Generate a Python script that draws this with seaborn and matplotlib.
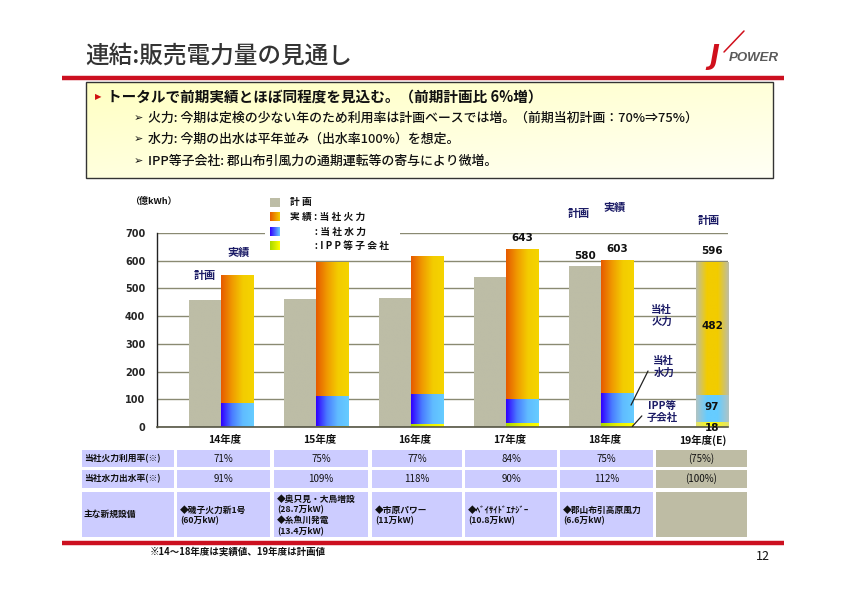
import numpy as np
import pandas as pd
import matplotlib
matplotlib.use("Agg")
import matplotlib.pyplot as plt
import seaborn as sns
from matplotlib.colors import LinearSegmentedColormap
from matplotlib.patches import Rectangle
import matplotlib.transforms as mtransforms

# ---------------- data ----------------
years = ['14年度', '15年度', '16年度', '17年度', '18年度', '19年度(E)']
plan = [459, 463, 467, 540, 580, 596]          # 計画 (19年度 = total plan)
thermal = [460, 484, 500, 543, 481, 482]        # 実績: 当社火力
hydro = [87, 108, 107, 87, 109, 97]             # 実績: 当社水力
ipp = [0, 4, 11, 13, 13, 18]                    # 実績: IPP等子会社

row_labels = ['当社火力利用率(※)', '当社水力出水率(※)', '主な新規設備']
thermal_rate = ['71%', '75%', '77%', '84%', '75%', '(75%)']
hydro_rate = ['91%', '109%', '118%', '90%', '112%', '(100%)']
new_facilities = ['◆磯子火力新1号\n(60万kW)',
                  '◆奥只見・大鳥増設\n(28.7万kW)\n◆糸魚川発電\n(13.4万kW)',
                  '◆市原パワー\n(11万kW)',
                  '◆ﾍﾞｲｻｲﾄﾞｴﾅｼﾞｰ\n(10.8万kW)',
                  '◆郡山布引高原風力\n(6.6万kW)',
                  '']

# ---------------- style ----------------
sns.set_theme(style="white")
plt.rcParams['font.family'] = ['Noto Sans CJK JP', 'DejaVu Sans']

W, H = 842, 595
fig = plt.figure(figsize=(W / 100, H / 100), dpi=100)
fig.patch.set_facecolor('white')

NAVY = '#1c1c66'
GRAY = '#BDBDA6'

ax = fig.add_axes([157 / W, 1 - 427 / H, (728 - 157) / W, (427 - 233) / H])
ax.set_facecolor('none')


def hgrad(colors, n=96):
    cm = LinearSegmentedColormap.from_list('g', colors)
    return cm(np.linspace(0, 1, n))[None, :, :]


def layer(values, slot, idxs):
    df = pd.DataFrame({'year': [years[i] for i in idxs],
                       'slot': [slot] * len(idxs),
                       'value': [values[i] for i in idxs]})
    n0 = len(ax.patches)
    sns.barplot(data=df, x='year', y='value', hue='slot', hue_order=['計画', '実績'],
                order=years, dodge=True, width=0.68, legend=False, errorbar=None,
                palette={'計画': GRAY, '実績': '#F0A000'}, saturation=1,
                linewidth=0, ax=ax)
    return list(ax.patches[n0:])


def paint(patches, color_fn, z):
    for p in patches:
        x0, w = p.get_x(), p.get_width()
        y0, h = p.get_y(), p.get_height()
        if h <= 0:
            p.set_visible(False)
            continue
        i = int(round(x0 + w / 2))
        im = ax.imshow(hgrad(color_fn(i)), extent=[x0, x0 + w, y0, y0 + h],
                       aspect='auto', interpolation='bilinear', zorder=z)
        im.set_clip_path(p)


totals = [thermal[i] + hydro[i] + ipp[i] for i in range(5)] + [plan[5]]
low = [hydro[i] + ipp[i] for i in range(6)]

p_plan = layer(plan, '計画', range(5))
p_tot = layer(totals, '実績', range(6))
p_hyd = layer(low, '実績', range(6))
p_ipp = layer(ipp, '実績', range(6))

paint(p_plan, lambda i: [GRAY, GRAY], 2.0)
paint(p_tot, lambda i: ['#E65A00', '#F09A00', '#F3CC00', '#F5D400'] if i < 5
      else [GRAY, '#F2CC00', '#F2CC00', GRAY], 2.1)
paint(p_hyd, lambda i: ['#3000FF', '#4A7CFF', '#60BCFF', '#66CCFF'] if i < 5
      else ['#B0C4C4', '#66CCFF', '#66CCFF', '#B0C4C4'], 2.2)
paint(p_ipp, lambda i: ['#A8D800', '#E8F000', '#FFFF00'] if i < 5
      else ['#E0E070', '#FFFF00', '#E0E070'], 2.3)

ax.set_xlim(-0.674, 5.337)
ax.set_ylim(0, 700)
ax.set_yticks(range(0, 701, 100))
ax.set_yticklabels([str(v) for v in range(0, 701, 100)], fontsize=7,
                   fontweight='bold', family='DejaVu Sans')
ax.tick_params(axis='y', length=0, pad=8.5)
ax.set_xticks([])
ax.set_xlabel('')
ax.set_ylabel('')
ax.grid(axis='y', color='#8A8A72', linewidth=1)
ax.set_axisbelow(True)
for s in ['top', 'right']:
    ax.spines[s].set_visible(False)
ax.spines['left'].set_color('#222222')
ax.spines['left'].set_linewidth(1)
ax.spines['bottom'].set_color('#555544')
ax.spines['bottom'].set_linewidth(1.2)

# x labels
tb = mtransforms.blended_transform_factory(ax.transData, ax.transAxes)
for i, y in enumerate(years):
    ax.text(i + (0.07 if i == 5 else 0.04), -0.068, y, transform=tb, ha='center',
            va='center', fontsize=7.5, fontweight='bold', color='#111111')

# value labels
def vlabel(x, y, s, dy=4):
    ax.annotate(s, (x, y), xytext=(0, dy), textcoords='offset points', ha='center',
                va='bottom', fontsize=7.5, fontweight='bold', family='DejaVu Sans',
                color='#111111', annotation_clip=False, zorder=5)

vlabel(3 + 0.17, totals[3], str(totals[3]))
vlabel(4 - 0.17, plan[4], str(plan[4]))
vlabel(4 + 0.17, totals[4], str(totals[4]))
vlabel(5 + 0.17, plan[5], str(plan[5]))
ax.annotate(str(thermal[5]), (5.17, low[5] + thermal[5] / 2), xytext=(0, 2),
            textcoords='offset points', ha='center', va='center', fontsize=7.5,
            fontweight='bold', family='DejaVu Sans', color='#111111', zorder=5)
ax.annotate(str(hydro[5]), (5.17, ipp[5] + hydro[5] / 2), xytext=(0, 1),
            textcoords='offset points', ha='center', va='center', fontsize=7.5,
            fontweight='bold', family='DejaVu Sans', color='#111111', zorder=5)
ax.annotate(str(ipp[5]), (5.17, ipp[5] / 2), xytext=(0, -2.5),
            textcoords='offset points', ha='center', va='center', fontsize=7.5,
            fontweight='bold', family='DejaVu Sans', color='#111111', zorder=5,
            annotation_clip=False)

# 計画 / 実績 labels
def klabel(x, y, s, dy):
    ax.annotate(s, (x, y), xytext=(0, dy), textcoords='offset points', ha='center',
                va='center', fontsize=8, fontweight='bold', color=NAVY,
                annotation_clip=False, zorder=5)

klabel(0 - 0.17, plan[0], '計画', 17.5)
klabel(0 + 0.19, totals[0], '実績', 16.5)
klabel(4 - 0.23, plan[4], '計画', 38)
klabel(4 + 0.14, totals[4], '実績', 38)
klabel(5 + 0.14, plan[5], '計画', 29.5)

# side labels
ax.text(4.64, 400, '当社\n火力', ha='center', va='center', fontsize=7.5,
        fontweight='bold', color=NAVY, linespacing=1.25)
ax.text(4.66, 216, '当社\n水力', ha='center', va='center', fontsize=7.5,
        fontweight='bold', color=NAVY, linespacing=1.25)
ax.text(4.64, 54, 'IPP等\n子会社', ha='center', va='center', fontsize=7.5,
        fontweight='bold', color=NAVY, linespacing=1.25)
ax.plot([4.495, 4.316], [202, 79], color='#222222', lw=0.9, zorder=6)
ax.plot([4.43, 4.33], [40, 2], color='#222222', lw=0.9, zorder=6, clip_on=False)

# ---------------- overlay (slide decorations) ----------------
ov = fig.add_axes([0, 0, 1, 1], zorder=5)
ov.patch.set_alpha(0)
ov.axis('off')

# title
ov.text(85, 56, '連結:販売電力量の見通し', fontsize=17, color='#333333',
        va='center', ha='left', fontweight='medium')
# logo
ov.plot([724, 744], [52, 31], color='#D0101C', lw=1.1, solid_capstyle='round')
ov.text(709, 57, 'J', fontsize=19, color='#D0101C', fontweight='bold',
        style='italic', va='center', ha='left', family='DejaVu Sans')
ov.text(729, 58, 'POWER', fontsize=9.5, color='#5a5a5a', fontweight='bold',
        style='italic', va='center', ha='left', family='Liberation Sans')
# red lines
ov.plot([62, 784], [78, 78], color='#CC1020', lw=3.2, solid_capstyle='butt')
ov.plot([62, 784], [543, 543], color='#CC1020', lw=3.2, solid_capstyle='butt')

# yellow box
yy, xx = np.mgrid[0:1:40j, 0:1:120j]
t = (0.55 * yy + 0.45 * xx)
box = np.zeros((40, 120, 3))
box[..., 0] = 1.0
box[..., 1] = 1.0
box[..., 2] = 0.76 + 0.2 * t
ov.imshow(box, extent=[86, 773, 178, 82], aspect='auto', interpolation='bilinear', zorder=1)
ov.add_patch(Rectangle((86, 82), 773 - 86, 178 - 82, fill=False, edgecolor='#333333',
                       lw=1, zorder=2))
ov.text(95, 97, '▶', fontsize=6, color='#D01010', va='center', ha='left',
        family=['DejaVu Sans'], zorder=3)
ov.text(107, 97, 'トータルで前期実績とほぼ同程度を見込む。（前期計画比 6%増）',
        fontsize=10.5, fontweight='bold', color='#111111', va='center', ha='left', zorder=3)
lines = ['火力: 今期は定検の少ない年のため利用率は計画ベースでは増。（前期当初計画：70%⇒75%）',
         '水力: 今期の出水は平年並み（出水率100%）を想定。',
         'IPP等子会社: 郡山布引風力の通期運転等の寄与により微増。']
for k, s in enumerate(lines):
    yk = 118 + k * 21.5
    ov.text(134, yk, '➢', fontsize=8, color='#111111', va='center', ha='left',
            family=['DejaVu Sans'], zorder=3)
    ov.text(148, yk, s, fontsize=9.3, fontweight='medium', color='#111111',
            va='center', ha='left', zorder=3)

# legend
ov.add_patch(Rectangle((265, 193), 135, 57, facecolor='white', edgecolor='none', zorder=1))
leg_cols = [[GRAY, GRAY], ['#E65A00', '#F3CC00'], ['#3000FF', '#66CCFF'],
            ['#A8D800', '#FFFF00']]
leg_txt = ['計 画', '実 績 : 当 社 火 力', '           : 当 社 水 力', '           : I P P 等 子 会 社']
for k in range(4):
    yc = 202.5 + k * 14.5
    ov.imshow(hgrad(leg_cols[k]), extent=[270, 280, yc + 4.5, yc - 4.5], aspect='auto',
              interpolation='bilinear', zorder=2)
    ov.text(290, yc, leg_txt[k], fontsize=7, fontweight='bold', color='#111111',
            va='center', ha='left', zorder=3)
ov.text(130, 201, '（億kWh）', fontsize=6.5, fontweight='bold', color='#111111',
        va='center', ha='left')

# table
cols_x = [(177, 270), (274, 368), (372, 462), (465, 557), (560, 653), (656, 747)]
rows_y = [(450, 467), (470, 488), (492, 537)]
LAV = '#CCCCFF'
TGRAY = '#BEBCA4'
for r, (y0, y1) in enumerate(rows_y):
    ov.add_patch(Rectangle((82, y0), 174 - 82, y1 - y0, facecolor=LAV, edgecolor='none'))
    ov.text(84, (y0 + y1) / 2, row_labels[r], fontsize=6.3, fontweight='bold',
            color='#111111', va='center', ha='left')
    for c, (x0, x1) in enumerate(cols_x):
        ov.add_patch(Rectangle((x0, y0), x1 - x0, y1 - y0,
                               facecolor=TGRAY if c == 5 else LAV, edgecolor='none'))
for c, (x0, x1) in enumerate(cols_x):
    xc = (x0 + x1) / 2
    ov.text(xc, (rows_y[0][0] + rows_y[0][1]) / 2, thermal_rate[c], fontsize=7,
            color='#111111', va='center', ha='center')
    ov.text(xc, (rows_y[1][0] + rows_y[1][1]) / 2, hydro_rate[c], fontsize=7,
            color='#111111', va='center', ha='center')
    if new_facilities[c]:
        ov.text(x0 + 3, (rows_y[2][0] + rows_y[2][1]) / 2 + 1, new_facilities[c],
                fontsize=6.3, fontweight='bold', color='#111111', va='center',
                ha='left', linespacing=1.25)

# footnote + page number
ov.text(150, 552, '※14～18年度は実績値、19年度は計画値', fontsize=6.8, fontweight='bold',
        color='#111111', va='center', ha='left')
ov.text(770, 556, '12', fontsize=9, color='#111111', va='center', ha='right')

ov.set_xlim(0, W)
ov.set_ylim(H, 0)

fig.savefig('out.png', dpi=100, facecolor='white')
